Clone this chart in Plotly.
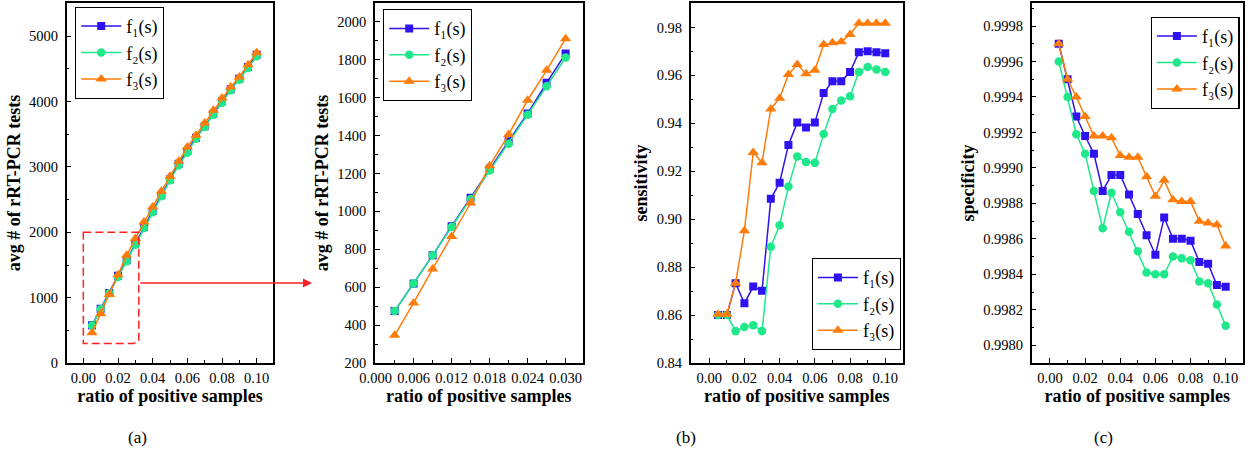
import plotly.graph_objects as go

# ---------------- data ----------------
ratio = [0.005, 0.010, 0.015, 0.020, 0.025, 0.030, 0.035, 0.040, 0.045, 0.050,
         0.055, 0.060, 0.065, 0.070, 0.075, 0.080, 0.085, 0.090, 0.095, 0.100]

tests_f1 = [577, 832, 1072, 1337, 1571, 1830, 2082, 2327, 2566, 2811,
            3051, 3245, 3449, 3622, 3816, 4005, 4189, 4352, 4531, 4719]
tests_f2 = [572, 821, 1066, 1316, 1556, 1810, 2066, 2306, 2551, 2796,
            3026, 3219, 3434, 3612, 3801, 3985, 4173, 4337, 4515, 4694]
tests_f3 = [464, 755, 1050, 1352, 1648, 1905, 2158, 2388, 2628, 2857,
            3087, 3306, 3485, 3673, 3867, 4056, 4224, 4378, 4566, 4750]

zoom_ratio = [0.003, 0.006, 0.009, 0.012, 0.015, 0.018, 0.021, 0.024, 0.027, 0.030]
zoom_f1 = [474, 619, 768, 922, 1072, 1225, 1370, 1516, 1678, 1832]
zoom_f2 = [474, 619, 768, 918, 1065, 1215, 1357, 1510, 1660, 1811]
zoom_f3 = [346, 517, 696, 867, 1044, 1240, 1405, 1586, 1744, 1911]

sens_f1 = [0.8600, 0.8600, 0.8733, 0.8649, 0.8719, 0.8701, 0.9085, 0.9152, 0.9310, 0.9403,
           0.9383, 0.9403, 0.9526, 0.9576, 0.9576, 0.9614, 0.9697, 0.9701, 0.9697, 0.9692]
sens_f2 = [0.8600, 0.8600, 0.8533, 0.8550, 0.8558, 0.8533, 0.8885, 0.8975, 0.9136, 0.9262,
           0.9239, 0.9235, 0.9355, 0.9460, 0.9495, 0.9513, 0.9614, 0.9635, 0.9625, 0.9614]
sens_f3 = [0.8603, 0.8603, 0.8733, 0.8952, 0.9278, 0.9236, 0.9460, 0.9505, 0.9604, 0.9645,
           0.9607, 0.9621, 0.9729, 0.9736, 0.9740, 0.9771, 0.9817, 0.9817, 0.9817, 0.9817]

spec_f1 = [0.99970, 0.99950, 0.99929, 0.99918, 0.99908, 0.99887, 0.99896, 0.99896, 0.99885, 0.99874,
           0.99862, 0.99851, 0.99872, 0.99860, 0.99860, 0.99859, 0.99847, 0.99846, 0.99834, 0.99833]
spec_f2 = [0.99960, 0.99940, 0.99919, 0.99908, 0.99887, 0.99866, 0.99886, 0.99875, 0.99864, 0.99853,
           0.99841, 0.99840, 0.99840, 0.99850, 0.99849, 0.99848, 0.99836, 0.99835, 0.99823, 0.99811]
spec_f3 = [0.99970, 0.99950, 0.99940, 0.99929, 0.99918, 0.99918, 0.99917, 0.99907, 0.99906, 0.99906,
           0.99895, 0.99884, 0.99893, 0.99882, 0.99881, 0.99881, 0.99870, 0.99869, 0.99868, 0.99856]

series_names = ["f\u2081(s)", "f\u2082(s)", "f\u2083(s)"]
panel_labels = ["(a)", "(b)", "(c)"]

# zoom box drawn in panel (a)
zoom_box_x = [0.0, 0.032]
zoom_box_y = [300, 2000]
arrow_y = 1225

# ---------------- style ----------------
W, H = 1250, 451
FONT = "Liberation Serif"
colors = ["#2E12F0", "#1EE88A", "#FF7B0A"]
symbols = ["square", "circle", "triangle-up"]
msizes = [8, 8.5, 10]

def px_x(p):
    return p / W

def px_y(p):
    return 1 - p / H

y_dom = [px_y(363), px_y(3)]
x_doms = [
    [px_x(66.7), px_x(273.3)],
    [px_x(375.0), px_x(582.7)],
    [px_x(690.7), px_x(902.7)],
    [px_x(1031.7), px_x(1242.7)],
]
x1_range = [-0.0096, 0.1096]
y1_range = [0, 5510]

fig = go.Figure()

panels = [
    (ratio, [tests_f1, tests_f2, tests_f3]),
    (zoom_ratio, [zoom_f1, zoom_f2, zoom_f3]),
    (ratio, [sens_f1, sens_f2, sens_f3]),
    (ratio, [spec_f1, spec_f2, spec_f3]),
]

for pi, (xs, ys_list) in enumerate(panels):
    ax = "" if pi == 0 else str(pi + 1)
    leg = "legend" if pi == 0 else "legend" + str(pi + 1)
    for si, ys in enumerate(ys_list):
        fig.add_trace(go.Scatter(
            x=xs, y=ys, mode="lines+markers",
            name=series_names[si],
            line=dict(color=colors[si], width=1.5),
            marker=dict(symbol=symbols[si], size=msizes[si], color=colors[si],
                        line=dict(width=0)),
            xaxis="x" + ax, yaxis="y" + ax,
            legend=leg, legendgroup=f"p{pi}s{si}",
        ))

def axis_style(**kw):
    d = dict(
        showline=True, linecolor="black", linewidth=1.5, mirror=True,
        ticks="inside", ticklen=5, tickwidth=1.3, tickcolor="black",
        showgrid=False, zeroline=False, automargin=False,
        tickfont=dict(family=FONT, size=14.5, color="black"),
        ticklabelstandoff=4,
    )
    d.update(kw)
    return d

def title(text, standoff):
    return dict(text=text, font=dict(family=FONT, size=18, color="black", weight="bold"),
                standoff=standoff)

minor_x = dict(ticks="inside", ticklen=3, tickcolor="black", tickwidth=1.2, dtick=0.01)
xt = "ratio of positive samples"

layout = dict(
    template="none",
    width=W, height=H,
    margin=dict(l=0, r=0, t=0, b=0, pad=0, autoexpand=False),
    paper_bgcolor="white", plot_bgcolor="white",
    showlegend=True,
)

# x axes
layout["xaxis"] = axis_style(domain=x_doms[0], range=x1_range, anchor="y",
                             tick0=0, dtick=0.02, tickformat=".2f", minor=minor_x,
                             ticklabelstandoff=1, title=title(xt, 0))
layout["xaxis2"] = axis_style(domain=x_doms[1], range=[-0.0001, 0.0327], anchor="y2",
                              tick0=0, dtick=0.006, tickformat=".3f",
                              minor=dict(ticks="inside", ticklen=3, tickcolor="black",
                                         tickwidth=1.2, dtick=0.003),
                              ticklabelstandoff=1, title=title(xt, 0))
layout["xaxis3"] = axis_style(domain=x_doms[2], range=[-0.0105, 0.1099], anchor="y3",
                              tick0=0, dtick=0.02, tickformat=".2f", minor=minor_x,
                              ticklabelstandoff=1, title=title(xt, 0))
layout["xaxis4"] = axis_style(domain=x_doms[3], range=[-0.0104, 0.1097], anchor="y4",
                              tick0=0, dtick=0.02, tickformat=".2f", minor=minor_x,
                              ticklabelstandoff=1, title=title(xt, 0))
# y axes
layout["yaxis"] = axis_style(domain=y_dom, range=y1_range, anchor="x",
                             tick0=0, dtick=1000,
                             minor=dict(ticks="inside", ticklen=3, tickcolor="black",
                                        tickwidth=1.2, dtick=500),
                             title=title("avg # of rRT-PCR tests", 4))
layout["yaxis2"] = axis_style(domain=y_dom, range=[200, 2099], anchor="x2",
                              tick0=0, dtick=200,
                              minor=dict(ticks="inside", ticklen=3, tickcolor="black",
                                         tickwidth=1.2, dtick=100),
                              title=title("avg # of rRT-PCR tests", 4))
layout["yaxis3"] = axis_style(domain=y_dom, range=[0.84, 0.9902], anchor="x3",
                              tick0=0.84, dtick=0.02, tickformat=".2f",
                              minor=dict(ticks="inside", ticklen=3, tickcolor="black",
                                         tickwidth=1.2, dtick=0.01),
                              title=title("sensitivity", 4))
layout["yaxis4"] = axis_style(domain=y_dom, range=[0.99790, 0.99993], anchor="x4",
                              tick0=0.998, dtick=0.0002, tickformat=".4f",
                              minor=dict(ticks="inside", ticklen=3, tickcolor="black",
                                         tickwidth=1.2, dtick=0.0001),
                              title=title("specificity", 4))

leg_common = dict(
    bgcolor="white", bordercolor="black", borderwidth=1.2,
    font=dict(family=FONT, size=18, color="black"),
    xanchor="left", yanchor="top", tracegroupgap=0, itemwidth=40,
)
layout["legend"] = dict(leg_common, x=px_x(75), y=px_y(6.7))
layout["legend2"] = dict(leg_common, x=px_x(383), y=px_y(9))
layout["legend3"] = dict(leg_common, x=px_x(811.7), y=px_y(258))
layout["legend4"] = dict(leg_common, x=px_x(1150.7), y=px_y(16.7))

fig.update_layout(**layout)

# zoom rectangle (dashed red) in panel (a)
x0, x1 = zoom_box_x
y0, y1 = zoom_box_y
fig.add_shape(type="path", xref="x", yref="y",
              path=f"M {x0},{y1} L {x1},{y1} L {x1},{y0 + 30} L {x1 - 0.003},{y0} L {x0},{y0} Z",
              line=dict(color="#FF2020", width=1.5, dash="8px,4px"))

# arrow from the zoom box to the zoomed panel (paper coordinates derived from axis 1)
dom_w = (x_doms[0][1] - x_doms[0][0])
dom_h = (y_dom[1] - y_dom[0])
tail_x = x_doms[0][0] + (x1 - x1_range[0]) / (x1_range[1] - x1_range[0]) * dom_w
arrow_py = y_dom[0] + (arrow_y - y1_range[0]) / (y1_range[1] - y1_range[0]) * dom_h
head_x = px_x(312)
fig.add_annotation(x=head_x, y=arrow_py, xref="paper", yref="paper",
                   ax=-(head_x - tail_x) * W, ay=0,
                   showarrow=True, arrowhead=2, arrowsize=1.2, arrowwidth=1.5,
                   arrowcolor="#FF2020", text="")

# panel labels
for lbl, xp in zip(panel_labels, [137, 686, 1103]):
    fig.add_annotation(x=px_x(xp), y=px_y(437), xref="paper", yref="paper",
                       xanchor="center", yanchor="middle",
                       text=lbl, showarrow=False,
                       font=dict(family=FONT, size=17, color="black"))

fig.write_html("out.html", config={"displayModeBar": False},
               post_script="document.body.style.margin='0px';")
